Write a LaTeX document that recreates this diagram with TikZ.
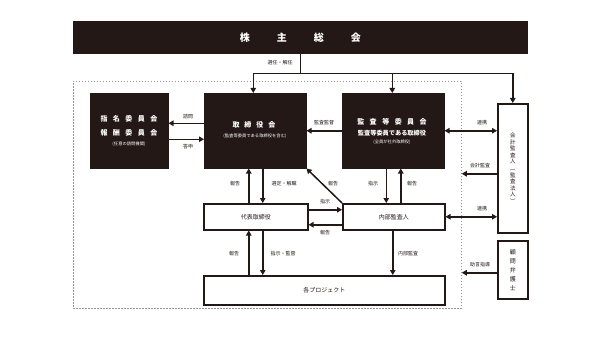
\documentclass[tikz,border=0pt]{standalone}
\usepackage{fontspec}
\usetikzlibrary{arrows.meta,calc}
\newfontfamily\jp{Noto Sans CJK JP}
\definecolor{dk}{RGB}{35,24,21}
\definecolor{dotgray}{RGB}{150,150,150}
\newcommand\gapA[1]{\hspace{#1}}
\begin{document}
\begin{tikzpicture}[x=1pt,y=-1pt,
  darkbox/.style={draw=dk,fill=dk,text=white,inner sep=0pt,align=center,anchor=north west,line width=0.5pt},
  wbox/.style={draw=dk,fill=white,text=dk,inner sep=0pt,align=center,anchor=north west,line width=1.5pt},
  arr/.style={draw=dk,line width=1.5pt,-{Triangle[length=5pt,width=5.5pt]}},
  darr/.style={draw=dk,line width=1.5pt,{Triangle[length=5pt,width=5.5pt]}-{Triangle[length=5pt,width=5.5pt]}},
  ln/.style={draw=dk,line width=1.5pt},
  lbl/.style={font=\jp\fontsize{5}{6}\selectfont,text=dk,inner sep=0pt},
  small/.style={font=\jp\fontsize{4.3}{5}\selectfont}
]
\useasboundingbox (0,0) rectangle (600,337);
% frame
\node[draw=dotgray,line width=0.8pt,dash pattern=on 1.6pt off 1.4pt,anchor=north west,inner sep=0pt,minimum width=388pt,minimum height=227pt] (frame) at (73,81) {};
% boxes
\node[darkbox,minimum width=454pt,minimum height=32pt] (kabu) at (73,21)
  {\jp\bfseries\fontsize{10}{12}\selectfont 株\gapA{27pt}主\gapA{27pt}総\gapA{27pt}会};
\node[darkbox,minimum width=78pt,minimum height=75pt] (shimei) at (90,93) {};
\node[text=white,inner sep=0pt,align=center] (shimeiA) at (129,119) {\jp\bfseries\fontsize{7}{8}\selectfont 指\gapA{5.5pt}名\gapA{5.5pt}委\gapA{5.5pt}員\gapA{5.5pt}会};
\node[text=white,inner sep=0pt,align=center] (shimeiB) at (129,133) {\jp\bfseries\fontsize{7}{8}\selectfont 報\gapA{5.5pt}酬\gapA{5.5pt}委\gapA{5.5pt}員\gapA{5.5pt}会};
\node[text=white,inner sep=0pt,small] (shimeiC) at (129,144) {(任意の諮問機関)};
\node[darkbox,minimum width=102pt,minimum height=75pt] (tori) at (204,93) {};
\node[text=white,inner sep=0pt] (toriA) at (254,125) {\jp\bfseries\fontsize{7}{8}\selectfont 取\gapA{5pt}締\gapA{5pt}役\gapA{5pt}会};
\node[text=white,inner sep=0pt,small] (toriB) at (255,136) {(監査等委員である取締役を含む)};
\node[darkbox,minimum width=102pt,minimum height=75pt] (kansa) at (342,93) {};
\node[text=white,inner sep=0pt] (kansaA) at (392,122) {\jp\bfseries\fontsize{7}{8}\selectfont 監\gapA{5.5pt}査\gapA{5.5pt}等\gapA{5.5pt}委\gapA{5.5pt}員\gapA{5.5pt}会};
\node[text=white,inner sep=0pt] (kansaB) at (392,133) {\jp\bfseries\fontsize{6.2}{7}\selectfont 監査等委員である取締役};
\node[text=white,inner sep=0pt,small] (kansaC) at (392,142) {(全員が社外取締役)};
\node[wbox,minimum width=104pt,minimum height=26pt,font=\jp\fontsize{6}{7}\selectfont] (daihyo) at (203,203) {代表取締役};
\node[wbox,minimum width=102pt,minimum height=26pt,font=\jp\fontsize{6}{7}\selectfont] (naibu) at (342,203) {内部監査人};
\node[wbox,minimum width=241pt,minimum height=29pt,font=\jp\fontsize{6}{7}\selectfont] (proj) at (203,275) {各プロジェクト};
\node[wbox,minimum width=30pt,minimum height=129pt,font=\jp\fontsize{5.5}{6.6}\selectfont] (kaikei) at (497,103) {会\\計\\監\\査\\人\\︵\\監\\査\\法\\人\\︶};
\node[wbox,minimum width=30pt,minimum height=58pt,font=\jp\fontsize{6}{9}\selectfont] (komon) at (497,240) {顧\\問\\弁\\護\\士};
% top connectors
\coordinate (j) at ($(kabu.south)+(0,20)$);
\draw[ln] (kabu.south) -- (j);
\draw[ln] ([xshift=-2pt]tori.north |- j) -- (kaikei.north |- j);
\draw[arr] ([xshift=-2pt]tori.north |- j) -- ([xshift=-2pt]tori.north);
\draw[arr] ([xshift=-1pt]kansa.north |- j) -- ([xshift=-1pt]kansa.north);
\draw[arr] (kaikei.north |- j) -- (kaikei.north);
\node[lbl] (l1) at (280,63) {選任・解任};
% shimei <-> tori
\draw[arr] ([yshift=7.5pt]tori.west) -- ([yshift=7.5pt]tori.west -| shimei.east);
\draw[arr] ([yshift=-8.5pt]shimei.east) -- ([yshift=-8.5pt]shimei.east -| tori.west);
\node[lbl] (l2) at (188,117) {諮問};
\node[lbl] (l3) at (188,147) {答申};
% kansa -> tori
\draw[arr] (kansa.west) -- (kansa.west -| tori.east);
\node[lbl] (l4) at (324,123) {監査監督};
% kaikei links
\draw[darr] (kansa.east) -- (kansa.east -| kaikei.west);
\node[lbl] (l5) at (482,123) {連携};
\draw[arr] ([yshift=-5.5pt]kaikei.west) -- ([yshift=-5.5pt]kaikei.west -| frame.east);
\node[lbl] (l6) at (480,166) {会計監査};
\draw[darr] (naibu.east) -- (naibu.east -| kaikei.west);
\node[lbl] (l7) at (482,209) {連携};
\draw[arr] ([yshift=-3pt]komon.west) -- ([yshift=-3pt]komon.west -| frame.east);
\node[lbl] (l8) at (480,265) {助言指導};
% tori <-> daihyo
\draw[arr] ([xshift=-7pt]daihyo.north) -- ([xshift=-7pt]daihyo.north |- tori.south);
\draw[arr] ([xshift=7pt]daihyo.north |- tori.south) -- ([xshift=7pt]daihyo.north);
\node[lbl] (l9) at (235,184) {報告};
\node[lbl] (l10) at (284,184) {選定・解職};
% diagonal
\draw[arr] (naibu.north west) -- (tori.south east);
\node[lbl] (l11) at (333,184) {報告};
% kansa <-> naibu
\draw[arr] ([xshift=-7pt]kansa.south) -- ([xshift=-7pt]kansa.south |- naibu.north);
\draw[arr] ([xshift=7pt]naibu.north) -- ([xshift=7pt]naibu.north |- kansa.south);
\node[lbl] (l12) at (373,184) {指示};
\node[lbl] (l13) at (412,184) {報告};
% daihyo <-> naibu
\draw[arr] ([yshift=7pt]daihyo.east) -- ([yshift=7pt]daihyo.east -| naibu.west);
\draw[arr] ([yshift=-8pt]naibu.west) -- ([yshift=-8pt]naibu.west -| daihyo.east);
\node[lbl] (l14) at (325,202) {指示};
\node[lbl] (l15) at (325,233) {報告};
% daihyo <-> proj
\draw[arr] ([xshift=-7pt]proj.north -| daihyo.south) -- ([xshift=-7pt]daihyo.south);
\draw[arr] ([xshift=7pt]daihyo.south) -- ([xshift=7pt]daihyo.south |- proj.north);
\node[lbl] (l16) at (234,254) {報告};
\node[lbl] (l17) at (283,254) {指示・監督};
% naibu -> proj
\draw[arr] ([xshift=-1pt]naibu.south) -- ([xshift=-1pt]naibu.south |- proj.north);
\node[lbl] (l18) at (408,254) {内部監査};
\end{tikzpicture}
\end{document}
